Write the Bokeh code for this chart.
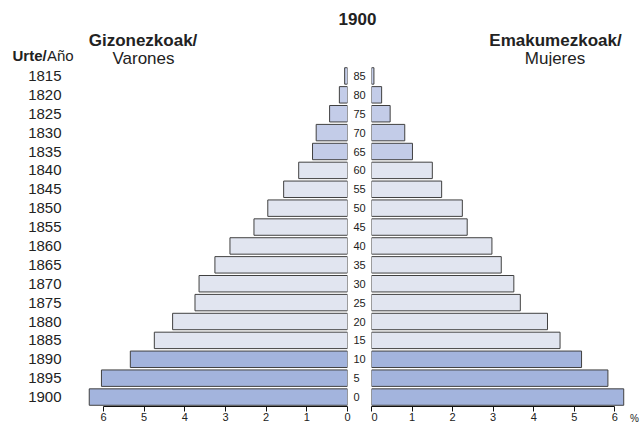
from bokeh.plotting import figure
from bokeh.models import (ColumnDataSource, FactorRange, Range1d, CategoricalAxis,
                          FixedTicker, Label)
from bokeh.layouts import row, column
from bokeh.embed import file_html
from bokeh.resources import INLINE

# ---------------- data ----------------
chart_title = "1900"
years = ["1815", "1820", "1825", "1830", "1835", "1840", "1845", "1850", "1855",
         "1860", "1865", "1870", "1875", "1880", "1885", "1890", "1895", "1900"]
ages = ["85", "80", "75", "70", "65", "60", "55", "50", "45",
        "40", "35", "30", "25", "20", "15", "10", "5", "0"]
male = [0.07, 0.20, 0.44, 0.77, 0.86, 1.20, 1.57, 1.96, 2.30,
        2.89, 3.26, 3.65, 3.75, 4.30, 4.75, 5.34, 6.05, 6.35]
female = [0.06, 0.25, 0.46, 0.82, 1.01, 1.50, 1.73, 2.24, 2.36,
          2.97, 3.20, 3.51, 3.67, 4.34, 4.65, 5.18, 5.83, 6.22]
group = ["65+"] * 5 + ["15-64"] * 10 + ["0-14"] * 3
x_ticks = [0, 1, 2, 3, 4, 5, 6]
unit_label = "%"

group_colors = {"65+": "#c3cce8", "15-64": "#e1e5f0", "0-14": "#a3b4dd"}
FONT = "Liberation Sans"
TXT = "#222222"

src = ColumnDataSource(dict(year=years, age=ages, male=male, female=female,
                            color=[group_colors[g] for g in group]))

HEAD_H = 66
FRAME_H = 340
L_FRAME_W = 277
R_FRAME_W = 254
L_PX = 40.67
R_PX = 40.55

# ---------------- header (titles) ----------------
head = figure(width=640, height=HEAD_H, min_border=0,
              x_range=Range1d(0, 640), y_range=Range1d(HEAD_H, 0),
              x_axis_location=None, y_axis_location=None,
              output_backend="svg", toolbar_location=None, outline_line_color=None)
head.xgrid.visible = False
head.ygrid.visible = False


def lab(p, x, y, text, size, bold=False, align="center"):
    p.add_layout(Label(x=x, y=y, text=text, text_font=FONT, text_font_size=size,
                       text_font_style="bold" if bold else "normal",
                       text_color=TXT, text_align=align, text_baseline="middle"))


lab(head, 357, 18, chart_title, "17px", bold=True)
lab(head, 142.5, 39.5, "Gizonezkoak/", "17px", bold=True)
lab(head, 143, 57.5, "Varones", "17px")
lab(head, 555, 39.5, "Emakumezkoak/", "17px", bold=True)
lab(head, 554.5, 57.5, "Mujeres", "17px")
lab(head, 12, 54.5, "Urte/", "15px", bold=True, align="left")
lab(head, 46.5, 54.5, "Año", "15px", align="left")


def style_x(p, ticks, bounds=None, visible_line=True, size="11px"):
    ax = p.xaxis[0]
    ax.ticker = FixedTicker(ticks=ticks)
    if bounds is not None:
        ax.bounds = bounds
    ax.minor_tick_line_color = None
    ax.major_tick_out = 5
    ax.major_tick_in = 0
    ax.axis_line_color = "#111111" if visible_line else None
    ax.major_tick_line_color = "#111111" if visible_line else None
    ax.major_label_standoff = 1
    ax.major_label_text_font = FONT
    ax.major_label_text_font_size = size
    ax.major_label_text_color = TXT
    p.xgrid.visible = False
    p.ygrid.visible = False


# ---------------- left (men) ----------------
left = figure(frame_width=L_FRAME_W, frame_height=FRAME_H,
              min_border_left=70, min_border_right=24, min_border_top=0, min_border_bottom=0,
              x_range=Range1d(L_FRAME_W / L_PX, 0),
              y_range=FactorRange(factors=years[::-1]),
              output_backend="svg", toolbar_location=None, outline_line_color=None)
left.hbar(y="year", left=0, right="male", height=0.87, fill_color="color",
          line_color="#404040", line_width=1, source=src)
style_x(left, x_ticks, bounds=(0, 6))
yax = left.yaxis[0]
yax.axis_line_color = None
yax.major_tick_line_color = None
yax.major_tick_out = 0
yax.major_tick_in = 0
yax.major_label_standoff = 9
yax.major_label_text_font = FONT
yax.major_label_text_font_size = "15px"
yax.major_label_text_color = TXT

left.extra_y_ranges = {"age": FactorRange(factors=ages[::-1])}
age_ax = CategoricalAxis(y_range_name="age", axis_line_color=None, major_tick_line_color=None,
                         major_tick_out=0, major_tick_in=0,
                         major_label_standoff=6, major_label_text_font=FONT,
                         major_label_text_font_size="11px", major_label_text_color=TXT)
left.add_layout(age_ax, "right")

# ---------------- right (women) ----------------
right = figure(frame_width=R_FRAME_W, frame_height=FRAME_H,
               min_border_left=0, min_border_right=0, min_border_top=0, min_border_bottom=0,
               x_range=Range1d(0, R_FRAME_W / R_PX),
               y_range=FactorRange(factors=years[::-1]), y_axis_location=None,
               output_backend="svg", toolbar_location=None, outline_line_color=None)
right.hbar(y="year", left=0, right="female", height=0.87, fill_color="color",
           line_color="#404040", line_width=1, source=src)
style_x(right, x_ticks, bounds=(0, 6))

# ---------------- unit mark (as an axis label) ----------------
pct = figure(frame_width=15, frame_height=FRAME_H, min_border_top=0, min_border_bottom=0,
             min_border_left=0, min_border_right=0,
             x_range=Range1d(0, 15), y_range=Range1d(0, 1), y_axis_location=None,
             output_backend="svg", toolbar_location=None, outline_line_color=None)
style_x(pct, [9], visible_line=False, size="10px")
pct.xaxis[0].major_label_overrides = {9: unit_label}

layout = column(head, row(left, right, pct))
open("out.html", "w").write(file_html(layout, INLINE))
